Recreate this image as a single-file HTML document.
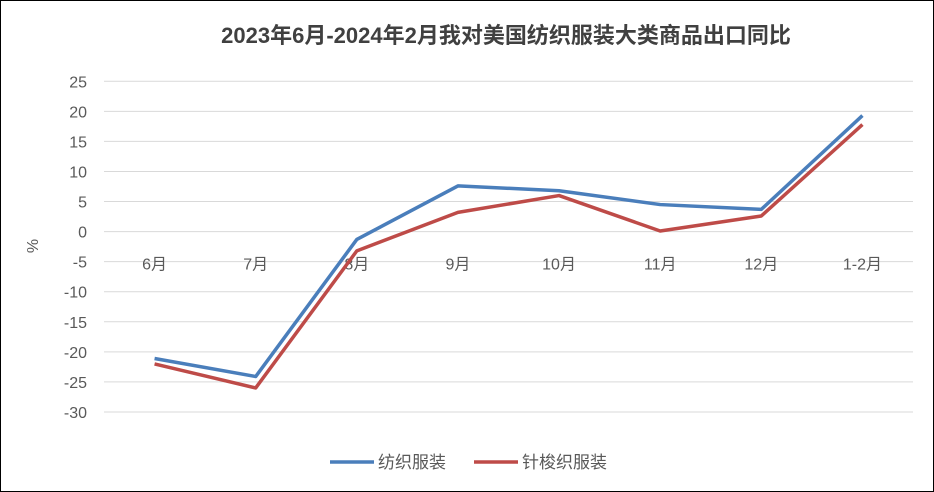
<!DOCTYPE html>
<html><head><meta charset="utf-8"><style>
body{margin:0;background:#fff;}
svg{display:block;font-family:"Liberation Sans","Noto Sans CJK SC",sans-serif;}
</style></head><body>
<svg id="chart" width="934" height="492">
<rect x="0.5" y="0.5" width="933" height="491" fill="#fff" stroke="#000" stroke-width="1"/>
<text x="506" y="43" text-anchor="middle" font-size="22" font-weight="bold" fill="#404040">2023年6月-2024年2月我对美国纺织服装大类商品出口同比</text>
<text transform="translate(38,246) rotate(-90)" text-anchor="middle" font-size="16" fill="#595959">%</text>
<g id="grid"></g><g id="ylabels"></g><g id="xlabels"></g><g id="series"></g>
<g>
<line x1="330" y1="462" x2="374" y2="462" stroke="#4a7ebb" stroke-width="3.5"/>
<text x="378" y="468" font-size="17" fill="#595959">纺织服装</text>
<line x1="474" y1="462" x2="518" y2="462" stroke="#be4b48" stroke-width="3.5"/>
<text x="522" y="468" font-size="17" fill="#595959">针梭织服装</text>
</g>
</svg>
<script>
const categories=["6月","7月","8月","9月","10月","11月","12月","1-2月"];
const textile=[-21.1,-24.1,-1.3,7.6,6.8,4.5,3.7,19.3];
const garment=[-22.0,-26.0,-3.2,3.2,6.0,0.1,2.6,17.8];
const yTicks=[25,20,15,10,5,0,-5,-10,-15,-20,-25,-30];
const NS="http://www.w3.org/2000/svg";
const L=104,R=913,yTop=81.3,yBot=412;
function y(v){return yTop+(25-v)*(yBot-yTop)/55;}
function x(i){return L+(i+0.5)*(R-L)/categories.length;}
function mk(t,a,p){const e=document.createElementNS(NS,t);for(const k in a)e.setAttribute(k,a[k]);p.appendChild(e);return e;}
const grid=document.getElementById('grid'),yl=document.getElementById('ylabels'),xl=document.getElementById('xlabels'),se=document.getElementById('series');
yTicks.forEach(v=>{
 const g=mk('line',{x1:L,x2:R,y1:y(v),y2:y(v),stroke:'#d9d9d9','stroke-width':1},grid);
 
 
 const t=mk('text',{x:87,y:y(v)+6,'text-anchor':'end','font-size':16,fill:'#595959'},yl);
 t.textContent=v;
 
 
});
categories.forEach((c,i)=>{
 const t=mk('text',{x:x(i),y:y(0)+38,'text-anchor':'middle','font-size':16,fill:'#595959'},xl);
 t.textContent=c;
 
 
});
function line(d,col,name){
 const p=mk('polyline',{points:d.map((v,i)=>x(i)+','+y(v)).join(' '),fill:'none',stroke:col,'stroke-width':3.5,'stroke-linejoin':'round'},se);
 
 
}
line(garment,'#be4b48','series-garment-line');
line(textile,'#4a7ebb','series-textile-line');
</script>
</body></html>
